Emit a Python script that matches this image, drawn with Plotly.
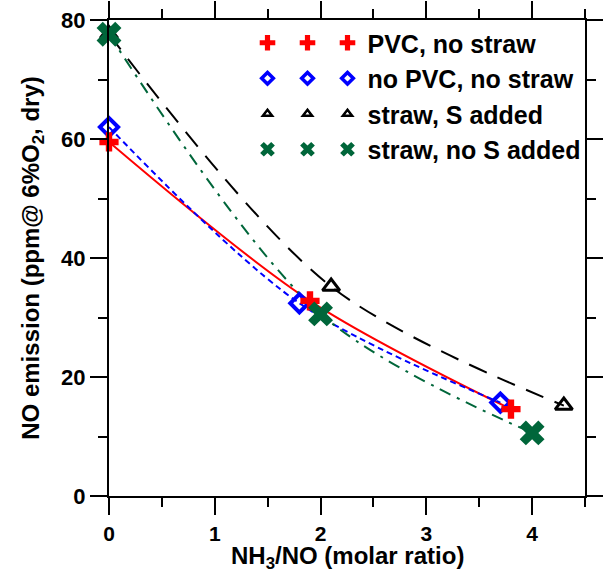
import plotly.graph_objects as go

# ---- data ----
pvc_x = [0, 1.9, 3.8]
pvc_y = [59.5, 32.8, 14.6]
nopvc_x = [0, 1.8, 3.7]
nopvc_y = [62.0, 32.4, 15.7]
strawS_x = [0, 2.1, 4.3]
strawS_y = [77.6, 35.2, 15.2]
strawN_x = [0, 2.0, 4.0]
strawN_y = [77.6, 30.6, 10.6]

names = ["PVC, no straw", "no PVC, no straw", "straw, S added", "straw, no S added"]
colors = ["#ff0000", "#0000ff", "#000000", "#00663a"]
symbols = ["cross", "diamond-open", "triangle-up-open", "x"]
dashes = ["solid", "6px,4px", "19px,12px", "12px,7px,3px,7px"]
series = [(pvc_x, pvc_y), (nopvc_x, nopvc_y), (strawS_x, strawS_y), (strawN_x, strawN_y)]
plot_sizes = [16, 14, 15, 22]
plot_lw = [0, 4, 3, 0]
leg_sizes = [13, 9, 8, 13]
leg_lw = [0, 3.5, 2.5, 0]

FONT = "Liberation Sans, Arial, sans-serif"

fig = go.Figure()

# fitted curves
for (xs, ys), c, d in zip(series, colors, dashes):
    fig.add_trace(go.Scatter(x=xs, y=ys, mode="lines", line=dict(color=c, width=2, dash=d, shape="spline", smoothing=0.9),
                             showlegend=False, hoverinfo="skip"))

# markers (triangle first so the X covers it)
order = [2, 1, 0, 3]
for i in order:
    xs, ys = series[i]
    fig.add_trace(go.Scatter(x=xs, y=ys, mode="markers", name=names[i], showlegend=False, cliponaxis=False,
                             marker=dict(symbol=symbols[i], size=plot_sizes[i], color=colors[i],
                                         line=dict(color=colors[i], width=plot_lw[i]))))

# legend proxies: three legends to mimic the triple-marker legend
for leg in ["legend", "legend2", "legend3"]:
    for i in range(4):
        fig.add_trace(go.Scatter(x=[None], y=[None], mode="markers",
                                 name=(names[i] if leg == "legend3" else " "),
                                 legend=leg, showlegend=True,
                                 marker=dict(symbol=symbols[i], size=leg_sizes[i], color=colors[i],
                                             line=dict(color=colors[i], width=leg_lw[i]))))

L, R, T, B = 109, 18, 20, 77
W, H = 603, 573
pw = W - L - R
ph = H - T - B

def lx(px):
    return (px - L) / pw

def ly(py):
    return (H - B - py) / ph

legend_common = dict(bgcolor="rgba(0,0,0,0)", borderwidth=0, itemwidth=30, tracegroupgap=0,
                     font=dict(family=FONT, size=25, color="black", weight="bold"),
                     xanchor="left", yanchor="top", y=ly(20), itemclick=False)

fig.update_layout(
    width=W, height=H,
    margin=dict(l=L, r=R, t=T, b=B, autoexpand=False),
    paper_bgcolor="white", plot_bgcolor="white",
    font=dict(family=FONT, size=22, color="black", weight="bold"),
    legend=dict(x=lx(247.5), **legend_common),
    legend2=dict(x=lx(287.5), **legend_common),
    legend3=dict(x=lx(327.5), **legend_common),
    xaxis=dict(range=[0, 4.5], dtick=1, tick0=0, showgrid=False, zeroline=False, automargin=False,
               showline=True, linecolor="black", linewidth=2, mirror="ticks",
               ticks="outside", ticklen=17, tickwidth=2, tickcolor="black", ticklabelstandoff=1,
               minor=dict(dtick=0.5, ticks="outside", ticklen=9, tickwidth=2, tickcolor="black", showgrid=False),
               tickfont=dict(family=FONT, size=21, color="black", weight="bold")),
    yaxis=dict(range=[0, 80], dtick=20, tick0=0, showgrid=False, zeroline=False, automargin=False,
               showline=True, linecolor="black", linewidth=2, mirror="ticks",
               ticks="outside", ticklen=17, tickwidth=2, tickcolor="black",
               minor=dict(dtick=10, ticks="outside", ticklen=9, tickwidth=2, tickcolor="black", showgrid=False),
               tickfont=dict(family=FONT, size=22, color="black", weight="bold"),
               title=dict(text="NO emission (ppm@ 6%O<sub>2</sub>, dry)",
                          font=dict(family=FONT, size=24, color="black", weight="bold"))),
    annotations=[dict(text="NH<sub>3</sub>/NO (molar ratio)", xref="paper", yref="paper",
                      x=0.5, y=ly(557), xanchor="center", yanchor="middle", showarrow=False,
                      font=dict(family=FONT, size=24, color="black", weight="bold"))],
)

fig.write_html("out.html", config={"displayModeBar": False},
               post_script="document.body.style.margin='0px';document.body.style.overflow='hidden';")
